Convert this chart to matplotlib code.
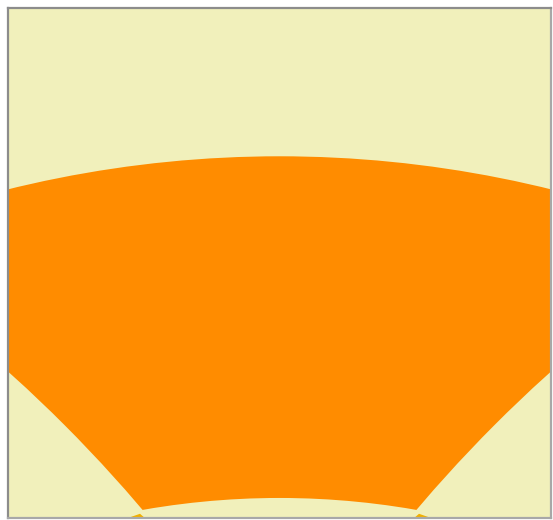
import matplotlib
matplotlib.use("Agg")
import matplotlib.pyplot as plt
from matplotlib.patches import Wedge, Circle, Polygon

# ---- data (in the view's own units) ----
ring_center = (279.5, 1290.0)
ring_inner_radius = 793.0
ring_outer_radius = 1134.0

side_center_x = [-943.0, 1502.0]
side_center_y = 1432.0
side_radius = 1425.0

tip_left_x = [125.0, 140.0, 146.0]
tip_right_x = [413.0, 419.0, 434.0]
tip_y = [518.0, 512.8, 518.0]

bg_color = "#F1F0BB"
ring_color = "#FF8C00"
tip_color = "#F2B000"

fig = plt.figure(figsize=(5.53, 5.20), dpi=100)
ax = fig.add_axes([8 / 553, 2 / 520, 543 / 553, 510 / 520])
ax.set_facecolor(bg_color)
ax.set_xlim(8, 551)
ax.set_ylim(517, 8)

ax.add_patch(Wedge(ring_center, ring_outer_radius, 0, 360,
                   width=ring_outer_radius - ring_inner_radius,
                   facecolor=ring_color, edgecolor="none", zorder=1))
for cx in side_center_x:
    ax.add_patch(Circle((cx, side_center_y), side_radius,
                        facecolor=bg_color, edgecolor="none", zorder=2))
for xs in (tip_left_x, tip_right_x):
    ax.add_patch(Polygon(list(zip(xs, tip_y)), closed=True,
                         facecolor=tip_color, edgecolor="none", zorder=3))

ax.set_xticks([])
ax.set_yticks([])
for name, sp in ax.spines.items():
    sp.set_linewidth(1.6)
    sp.set_color("#8C8C8C" if name in ("left", "top") else "#A8A8A8")
    sp.set_zorder(5)

fig.savefig("out.png", dpi=100, facecolor="white")
